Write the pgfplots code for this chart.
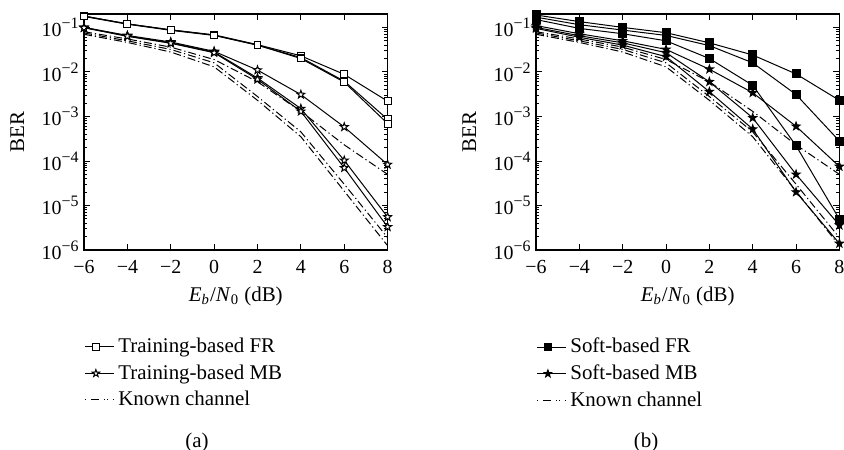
\documentclass[border=0pt]{standalone}
\usepackage{fontspec}
\setmainfont{Liberation Serif}
\usepackage{pgfplots}
\pgfplotsset{compat=1.18}

% five-pointed star mark, filled with the current fill colour
\pgfdeclareplotmark{fivestar}{%
  \pgfpathmoveto{\pgfpointpolar{90}{\pgfplotmarksize}}%
  \pgfpathlineto{\pgfpointpolar{126}{0.4\pgfplotmarksize}}%
  \pgfpathlineto{\pgfpointpolar{162}{\pgfplotmarksize}}%
  \pgfpathlineto{\pgfpointpolar{198}{0.4\pgfplotmarksize}}%
  \pgfpathlineto{\pgfpointpolar{234}{\pgfplotmarksize}}%
  \pgfpathlineto{\pgfpointpolar{270}{0.4\pgfplotmarksize}}%
  \pgfpathlineto{\pgfpointpolar{306}{\pgfplotmarksize}}%
  \pgfpathlineto{\pgfpointpolar{342}{0.4\pgfplotmarksize}}%
  \pgfpathlineto{\pgfpointpolar{18}{\pgfplotmarksize}}%
  \pgfpathlineto{\pgfpointpolar{54}{0.4\pgfplotmarksize}}%
  \pgfpathclose
  \pgfusepathqfillstroke}

% power-of-ten tick label in the text font
\newcommand\tenpow[1]{10\raisebox{4bp}{\fontsize{8}{9}\selectfont −#1}}

\begin{document}
\begin{tikzpicture}
\useasboundingbox (0,0) rectangle (422bp,225bp);

% ---------------- (a) training-based estimation ----------------
\begin{axis}[
    at={(42bp,100bp)}, anchor=south west,
    scale only axis, width=151.8bp, height=118bp,
    clip=false,
    ymode=log, xmin=-6, xmax=8, ymin=1e-6, ymax=0.2,
    xtick={-6,-4,-2,0,2,4,6,8},
    xticklabels={−6,−4,−2,0,2,4,6,8},
    ytick={1e-6,1e-5,1e-4,1e-3,1e-2,1e-1},
    yticklabels={\tenpow{6},\tenpow{5},\tenpow{4},\tenpow{3},\tenpow{2},\tenpow{1}},
    tick align=inside, major tick length=3bp, minor tick length=1.6bp,
    axis line style={line width=0.6bp},
    tick style={black, line width=0.45bp},
    yticklabel style={inner sep=0pt, xshift=-2.5bp, font=\fontsize{10}{12}\selectfont},
    xticklabel style={inner sep=0pt, yshift=-5bp, font=\fontsize{10}{12}\selectfont},
    xlabel={\textit{E}\textsubscript{\textit{b}}/\textit{N}\textsubscript{0} (dB)},
    ylabel={BER},
    label style={font=\fontsize{10.5}{12.5}\selectfont},
    xlabel style={at={(axis description cs:0.5,-0.195)}, anchor=center},
    ylabel style={at={(axis description cs:-0.22,0.5)}, anchor=center},
    legend style={at={(axis description cs:0,-0.355)}, anchor=north west,
      draw=none, fill=none, inner sep=0pt, row sep=0.5bp,
      font=\fontsize{10.5}{12.5}\selectfont},
    legend cell align=left,
    legend image code/.code={%
      \draw[mark repeat=2,mark phase=2] plot coordinates {(0bp,0bp) (5.5bp,0bp) (11bp,0bp)};
      \path (11bp,0bp) -- (14.5bp,0bp);},
  ]
  % known channel
  \addplot[forget plot, black, line width=0.5bp, no marks, dash pattern={on 4bp off 1.5bp on 0.6bp off 1.5bp}] coordinates {(-6,0.080) (-4,0.055) (-2,0.036) (0,0.019) (2,6.0e-3) (4,1.3e-3) (6,2.3e-4) (8,5.0e-5)};
  \addplot[forget plot, black, line width=0.5bp, no marks, dash pattern={on 4bp off 1.5bp on 0.6bp off 1.5bp}] coordinates {(-6,0.075) (-4,0.050) (-2,0.032) (0,0.016) (2,2.8e-3) (4,4.5e-4) (6,3.0e-5) (8,1.9e-6)};
  \addplot[forget plot, black, line width=0.5bp, no marks, dash pattern={on 4bp off 1.5bp on 0.6bp off 1.5bp}] coordinates {(-6,0.070) (-4,0.046) (-2,0.028) (0,0.013) (2,2.3e-3) (4,3.5e-4) (6,2.1e-5) (8,1.25e-6)};
  % training-based MB
  \addplot[forget plot, black, line width=0.5bp, mark=fivestar, mark size=2.1bp, mark options={fill=white, solid}] coordinates {(-6,0.100) (-4,0.066) (-2,0.047) (0,0.029) (2,0.011) (4,3.1e-3) (6,5.8e-4) (8,8.3e-5)};
  \addplot[forget plot, black, line width=0.5bp, mark=fivestar, mark size=2.1bp, mark options={fill=white, solid}] coordinates {(-6,0.100) (-4,0.064) (-2,0.045) (0,0.028) (2,7.3e-3) (4,1.5e-3) (6,1.03e-4) (8,5.5e-6)};
  \addplot[forget plot, black, line width=0.5bp, mark=fivestar, mark size=2.1bp, mark options={fill=white, solid}] coordinates {(-6,0.098) (-4,0.063) (-2,0.044) (0,0.027) (2,6.8e-3) (4,1.3e-3) (6,7.0e-5) (8,3.3e-6)};
  % training-based FR
  \addplot[forget plot, black, line width=0.5bp, mark=square*, mark size=1.7bp, mark options={fill=white, solid}] coordinates {(-6,0.180) (-4,0.120) (-2,0.088) (0,0.068) (2,0.041) (4,0.023) (6,8.8e-3) (8,2.2e-3)};
  \addplot[forget plot, black, line width=0.5bp, mark=square*, mark size=1.7bp, mark options={fill=white, solid}] coordinates {(-6,0.180) (-4,0.120) (-2,0.088) (0,0.067) (2,0.040) (4,0.021) (6,6.2e-3) (8,8.6e-4)};
  \addplot[forget plot, black, line width=0.5bp, mark=square*, mark size=1.7bp, mark options={fill=white, solid}] coordinates {(-6,0.176) (-4,0.118) (-2,0.086) (0,0.066) (2,0.040) (4,0.020) (6,5.9e-3) (8,6.9e-4)};
  % legend
  \addlegendimage{black, line width=0.5bp, mark=square*, mark size=1.6bp, mark options={fill=white}}
  \addlegendentry{Training-based FR}
  \addlegendimage{black, line width=0.5bp, mark=fivestar, mark size=1.9bp, mark options={fill=white}}
  \addlegendentry{Training-based MB}
  \addlegendimage{black, line width=0.5bp, no marks, dash pattern={on 0.6bp off 2.4bp on 4.2bp off 2.4bp}}
  \addlegendentry{Known channel}
  \node[font=\fontsize{10.5}{12.5}\selectfont] at (axis description cs:0.372,-0.815) {(a)};
\end{axis}

% ---------------- (b) soft-based estimation ----------------
\begin{axis}[
    at={(268bp,100bp)}, anchor=south west,
    scale only axis, width=151.7bp, height=118bp,
    clip=false,
    ymode=log, xmin=-6, xmax=8, ymin=1e-6, ymax=0.2,
    xtick={-6,-4,-2,0,2,4,6,8},
    xticklabels={−6,−4,−2,0,2,4,6,8},
    ytick={1e-6,1e-5,1e-4,1e-3,1e-2,1e-1},
    yticklabels={\tenpow{6},\tenpow{5},\tenpow{4},\tenpow{3},\tenpow{2},\tenpow{1}},
    tick align=inside, major tick length=3bp, minor tick length=1.6bp,
    axis line style={line width=0.6bp},
    tick style={black, line width=0.45bp},
    yticklabel style={inner sep=0pt, xshift=-2.5bp, font=\fontsize{10}{12}\selectfont},
    xticklabel style={inner sep=0pt, yshift=-5bp, font=\fontsize{10}{12}\selectfont},
    xlabel={\textit{E}\textsubscript{\textit{b}}/\textit{N}\textsubscript{0} (dB)},
    ylabel={BER},
    label style={font=\fontsize{10.5}{12.5}\selectfont},
    xlabel style={at={(axis description cs:0.5,-0.195)}, anchor=center},
    ylabel style={at={(axis description cs:-0.22,0.5)}, anchor=center},
    legend style={at={(axis description cs:0,-0.355)}, anchor=north west,
      draw=none, fill=none, inner sep=0pt, row sep=0.5bp,
      font=\fontsize{10.5}{12.5}\selectfont},
    legend cell align=left,
    legend image code/.code={%
      \draw[mark repeat=2,mark phase=2] plot coordinates {(0bp,0bp) (5.5bp,0bp) (11bp,0bp)};
      \path (11bp,0bp) -- (14.5bp,0bp);},
  ]
  % known channel
  \addplot[forget plot, black, line width=0.5bp, no marks, dash pattern={on 4bp off 1.5bp on 0.6bp off 1.5bp}] coordinates {(-6,0.080) (-4,0.055) (-2,0.036) (0,0.019) (2,6.0e-3) (4,1.3e-3) (6,2.3e-4) (8,5.0e-5)};
  \addplot[forget plot, black, line width=0.5bp, no marks, dash pattern={on 4bp off 1.5bp on 0.6bp off 1.5bp}] coordinates {(-6,0.075) (-4,0.050) (-2,0.032) (0,0.016) (2,2.8e-3) (4,4.5e-4) (6,3.0e-5) (8,1.9e-6)};
  \addplot[forget plot, black, line width=0.5bp, no marks, dash pattern={on 4bp off 1.5bp on 0.6bp off 1.5bp}] coordinates {(-6,0.070) (-4,0.046) (-2,0.028) (0,0.013) (2,2.3e-3) (4,3.5e-4) (6,2.1e-5) (8,1.25e-6)};
  % soft-based MB
  \addplot[forget plot, black, line width=0.5bp, mark=fivestar, mark size=2.1bp, mark options={fill=black, solid}] coordinates {(-6,0.110) (-4,0.072) (-2,0.050) (0,0.032) (2,0.0115) (4,3.4e-3) (6,6.0e-4) (8,7.5e-5)};
  \addplot[forget plot, black, line width=0.5bp, mark=fivestar, mark size=2.1bp, mark options={fill=black, solid}] coordinates {(-6,0.100) (-4,0.065) (-2,0.045) (0,0.027) (2,6.0e-3) (4,9.3e-4) (6,5.0e-5) (8,3.6e-6)};
  \addplot[forget plot, black, line width=0.5bp, mark=fivestar, mark size=2.1bp, mark options={fill=black, solid}] coordinates {(-6,0.095) (-4,0.060) (-2,0.040) (0,0.022) (2,3.6e-3) (4,5.2e-4) (6,2.0e-5) (8,1.4e-6)};
  % soft-based FR
  \addplot[forget plot, black, line width=0.5bp, mark=square*, mark size=2bp, mark options={fill=black, solid}] coordinates {(-6,0.190) (-4,0.135) (-2,0.100) (0,0.076) (2,0.045) (4,0.024) (6,9.0e-3) (8,2.3e-3)};
  \addplot[forget plot, black, line width=0.5bp, mark=square*, mark size=2bp, mark options={fill=black, solid}] coordinates {(-6,0.170) (-4,0.115) (-2,0.087) (0,0.066) (2,0.039) (4,0.016) (6,3.1e-3) (8,2.8e-4)};
  \addplot[forget plot, black, line width=0.5bp, mark=square*, mark size=2bp, mark options={fill=black, solid}] coordinates {(-6,0.150) (-4,0.095) (-2,0.072) (0,0.050) (2,0.020) (4,5.0e-3) (6,2.2e-4) (8,4.9e-6)};
  % legend
  \addlegendimage{black, line width=0.5bp, mark=square*, mark size=1.7bp, mark options={fill=black}}
  \addlegendentry{Soft-based FR}
  \addlegendimage{black, line width=0.5bp, mark=fivestar, mark size=1.9bp, mark options={fill=black}}
  \addlegendentry{Soft-based MB}
  \addlegendimage{black, line width=0.5bp, no marks, dash pattern={on 0.6bp off 2.4bp on 4.2bp off 2.4bp}}
  \addlegendentry{Known channel}
  \node[font=\fontsize{10.5}{12.5}\selectfont] at (axis description cs:0.363,-0.815) {(b)};
\end{axis}
\end{tikzpicture}
\end{document}
